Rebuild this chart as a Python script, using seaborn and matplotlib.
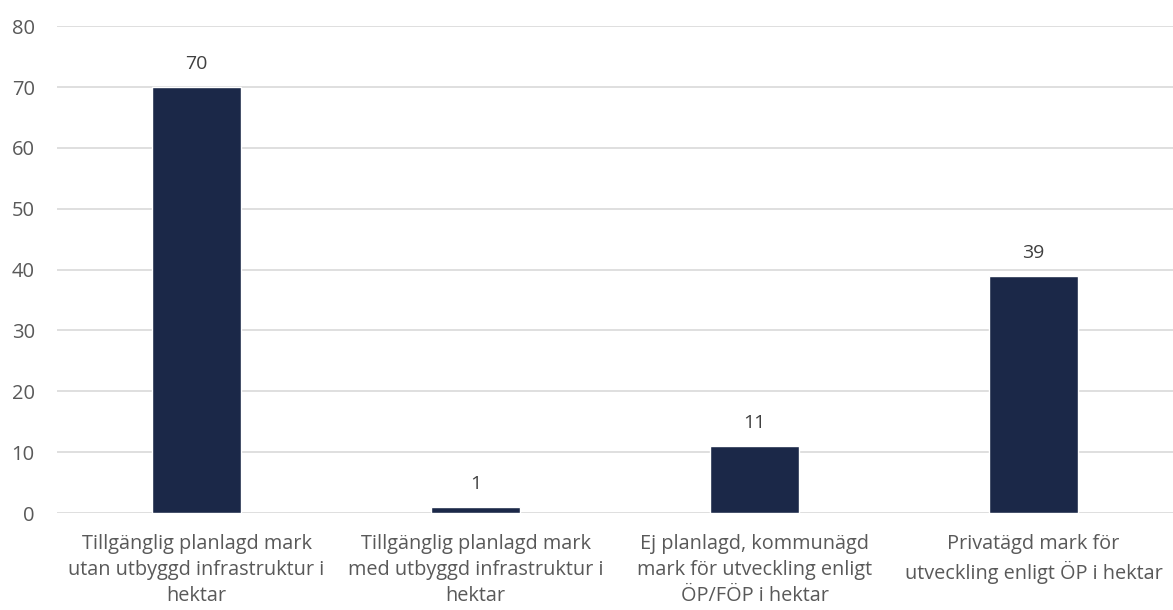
import matplotlib
matplotlib.use("Agg")
import matplotlib.pyplot as plt
import seaborn as sns
import pandas as pd

categories = [
    "Tillgänglig planlagd mark\nutan utbyggd infrastruktur i\nhektar",
    "Tillgänglig planlagd mark\nmed utbyggd infrastruktur i\nhektar",
    "Ej planlagd, kommunägd\nmark för utveckling enligt\nÖP/FÖP i hektar",
    "Privatägd mark för\nutveckling enligt ÖP i hektar",
]
values = [70, 1, 11, 39]
y_ticks = [0, 10, 20, 30, 40, 50, 60, 70, 80]

sns.set_theme(style="white")
plt.rcParams["font.family"] = ["Open Sans", "DejaVu Sans"]

df = pd.DataFrame({"cat": categories, "val": values})

fig = plt.figure(figsize=(11.73, 6.10), dpi=100)
ax = fig.add_axes([0.0486, 0.159, 0.9514, 0.798])

sns.barplot(data=df, x="cat", y="val", color="#1B2848", width=0.32,
            saturation=1, ax=ax, zorder=3)

ax.set_ylim(0, 80)
ax.set_yticks(y_ticks)
ax.yaxis.grid(True, color="#D9D9D9", linewidth=1.2, zorder=0)
ax.xaxis.grid(False)
for s in ax.spines.values():
    s.set_visible(False)
ax.set_xlabel("")
ax.set_ylabel("")
ax.tick_params(axis="y", length=0, pad=16, labelsize=14.5, labelcolor="#595959")
ax.tick_params(axis="x", length=0, pad=15, labelsize=14.3, labelcolor="#595959")
for lbl in ax.get_xticklabels():
    lbl.set_horizontalalignment("center")
    lbl.set_linespacing(1.4)

for p, v in zip(ax.patches, values):
    ax.annotate(f"{v}", (p.get_x() + p.get_width() / 2, p.get_height()),
                xytext=(0, 10), textcoords="offset points", ha="center",
                va="bottom", fontsize=14, color="#404040")

fig.savefig("out.png", dpi=100)
